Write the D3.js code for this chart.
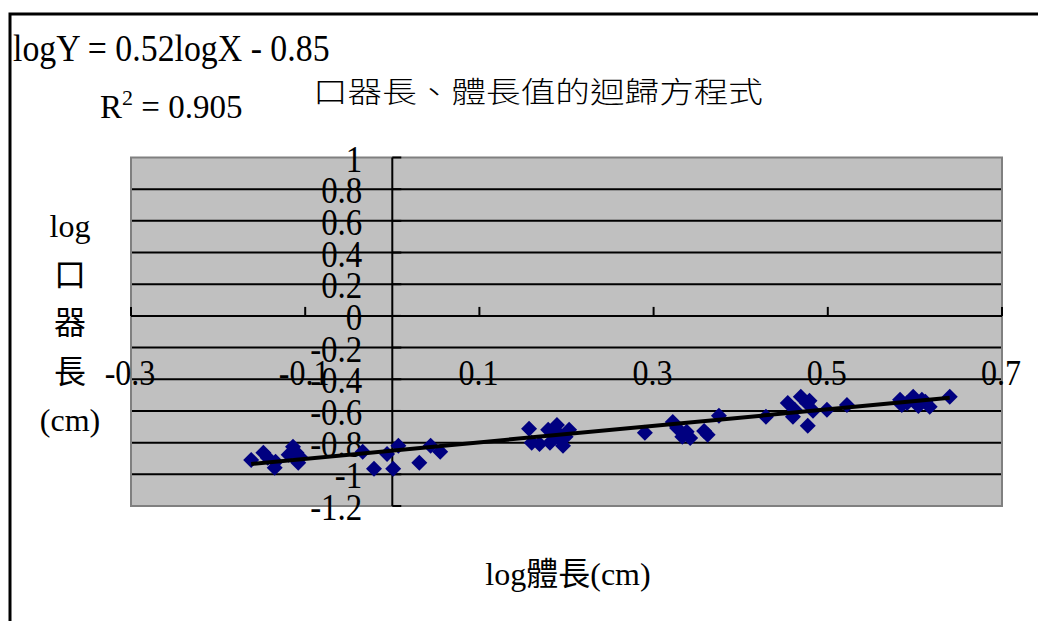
<!DOCTYPE html>
<html>
<head>
<meta charset="utf-8">
<script src="https://cdn.jsdelivr.net/npm/d3@7"></script>
<style>
body { margin: 0; background: #fff; }
</style>
</head>
<body>
<script>
// log body length (x) and log mouth-part length (y)
var logBody = [-0.162, -0.148, -0.143, -0.135, -0.134, -0.114, -0.110, -0.108, -0.119, -0.106,
  -0.034, -0.021, -0.006, 0.007, 0.001, 0.031, 0.044, 0.055,
  0.157, 0.160, 0.169, 0.181, 0.179, 0.189, 0.190, 0.196, 0.203, 0.187, 0.199, 0.193,
  0.290, 0.322, 0.333, 0.342, 0.338, 0.358, 0.362, 0.327, 0.375,
  0.429, 0.454, 0.460, 0.469, 0.476, 0.479, 0.477, 0.483, 0.499, 0.522, 0.462,
  0.583, 0.591, 0.598, 0.608, 0.617, 0.640, 0.585, 0.604, 0.612]
var logMouth = [-0.909, -0.864, -0.896, -0.959, -0.921, -0.826, -0.864, -0.927, -0.877, -0.890,
  -0.858, -0.965, -0.871, -0.820, -0.965, -0.927, -0.820, -0.858,
  -0.713, -0.801, -0.808, -0.801, -0.719, -0.688, -0.738, -0.820, -0.719, -0.763, -0.763, -0.782,
  -0.738, -0.669, -0.763, -0.770, -0.732, -0.726, -0.751, -0.707, -0.631,
  -0.637, -0.549, -0.637, -0.511, -0.549, -0.536, -0.694, -0.599, -0.593, -0.562, -0.593,
  -0.530, -0.549, -0.511, -0.530, -0.574, -0.511, -0.562, -0.568, -0.542]

var xTicks = [-0.3, -0.1, 0.1, 0.3, 0.5, 0.7]
var yTicks = [-1.2, -1, -0.8, -0.6, -0.4, -0.2, 0, 0.2, 0.4, 0.6, 0.8, 1]

// trendline coefficients (from the label)
var slope = 0.52
var intercept = -0.85

var eqText = "logY = 0.52logX - 0.85"
var r2Text = "0.905"
var chartTitle = "口器長、體長值的迴歸方程式"
var yTitle = ["log", "口", "器", "長", "(cm)"]
var xTitle = "log體長(cm)"

var width = 1038, height = 621
var latin = "'Liberation Serif', 'Times New Roman', serif"
var mixed = "'Liberation Serif', 'Noto Sans CJK TC', serif"

var svg = d3.select("body")
  .append("svg")
  .attr("width", width)
  .attr("height", height)

var x = d3.scaleLinear().domain([-0.3, 0.7]).range([131, 1002])
var y = d3.scaleLinear().domain([-1.2, 1]).range([506, 157.5])

// squeeze latin text horizontally like the original narrow serif
function condense(sel, k) {
  sel.each(function() {
    var w = this.getComputedTextLength()
    d3.select(this).attr("textLength", w * k).attr("lengthAdjust", "spacingAndGlyphs")
  })
}

// outer frame
svg.append("rect")
  .attr("x", 10).attr("y", 14)
  .attr("width", 1100).attr("height", 700)
  .attr("fill", "#fff")
  .attr("stroke", "#000")
  .attr("stroke-width", 3)

// plot area
svg.append("rect")
  .attr("x", x(-0.3)).attr("y", y(1))
  .attr("width", x(0.7) - x(-0.3))
  .attr("height", y(-1.2) - y(1))
  .attr("fill", "#c0c0c0")
  .attr("stroke", "#808080")
  .attr("stroke-width", 2)

// horizontal grid
svg.selectAll(".grid")
  .data(yTicks.filter(function(v) { return v > -1.2 && v < 1 && v != 0 }))
  .enter()
  .append("line")
  .attr("class", "grid")
  .attr("x1", x(-0.3) + 1).attr("x2", x(0.7) - 1)
  .attr("y1", function(v) { return y(v) }).attr("y2", function(v) { return y(v) })
  .attr("stroke", "#000")
  .attr("stroke-width", 2)

// x axis at y = 0, ticks pointing up
svg.append("line")
  .attr("x1", x(-0.3)).attr("x2", x(0.7))
  .attr("y1", y(0)).attr("y2", y(0))
  .attr("stroke", "#000").attr("stroke-width", 2)

svg.selectAll(".xtick")
  .data(xTicks)
  .enter()
  .append("line")
  .attr("class", "xtick")
  .attr("x1", function(v) { return x(v) }).attr("x2", function(v) { return x(v) })
  .attr("y1", y(0)).attr("y2", y(0) - 9)
  .attr("stroke", "#000").attr("stroke-width", 2)

// y axis at x = 0, ticks pointing right
svg.append("line")
  .attr("x1", x(0)).attr("x2", x(0))
  .attr("y1", y(1)).attr("y2", y(-1.2))
  .attr("stroke", "#000").attr("stroke-width", 2)

svg.selectAll(".ytick")
  .data(yTicks)
  .enter()
  .append("line")
  .attr("class", "ytick")
  .attr("x1", x(0)).attr("x2", x(0) + 9)
  .attr("y1", function(v) { return y(v) }).attr("y2", function(v) { return y(v) })
  .attr("stroke", "#000").attr("stroke-width", 2)

function fmt(v) { return String(+v.toFixed(1)) }

var yLabels = svg.selectAll(".ylabel")
  .data(yTicks)
  .enter()
  .append("text")
  .attr("class", "ylabel")
  .attr("x", x(0) - 30)
  .attr("y", function(v) { return y(v) + 14 })
  .attr("text-anchor", "end")
  .attr("font-family", latin)
  .attr("font-size", 37)
  .text(fmt)
condense(yLabels, 0.89)

var xLabels = svg.selectAll(".xlabel")
  .data(xTicks)
  .enter()
  .append("text")
  .attr("class", "xlabel")
  .attr("x", function(v) { return x(v) - 1 })
  .attr("y", y(0) + 69)
  .attr("text-anchor", "middle")
  .attr("font-family", latin)
  .attr("font-size", 36)
  .text(fmt)
condense(xLabels, 0.89)

// points
svg.selectAll(".pt")
  .data(logBody)
  .enter()
  .append("path")
  .attr("class", "pt")
  .attr("d", "M0,-8L8,0L0,8L-8,0Z")
  .attr("transform", function(d, i) { return "translate(" + x(d) + "," + y(logMouth[i]) + ")" })
  .attr("fill", "#000080")

// trendline
var xExt = d3.extent(logBody)
svg.append("line")
  .attr("x1", x(xExt[0])).attr("y1", y(slope * xExt[0] + intercept))
  .attr("x2", x(xExt[1])).attr("y2", y(slope * xExt[1] + intercept))
  .attr("stroke", "#000")
  .attr("stroke-width", 4)

// equation label
var eq = svg.append("text")
  .attr("x", 13).attr("y", 61)
  .attr("font-family", latin)
  .attr("font-size", 38)
  .text(eqText)
condense(eq, 0.89)

var r2 = svg.append("text")
  .attr("x", 100).attr("y", 118)
  .attr("font-family", latin)
  .attr("font-size", 33)
r2.append("tspan").text("R")
r2.append("tspan").attr("dy", -13).attr("font-size", 22).text("2")
r2.append("tspan").attr("dy", 13).text(" = " + r2Text)

// chart title
svg.append("text")
  .attr("x", 313).attr("y", 103)
  .attr("font-family", "'Noto Sans CJK TC', sans-serif")
  .attr("font-size", 29)
  .attr("font-weight", 300)
  .attr("textLength", 450)
  .attr("lengthAdjust", "spacingAndGlyphs")
  .text(chartTitle)

// y axis title, stacked
svg.selectAll(".ytitle")
  .data(yTitle)
  .enter()
  .append("text")
  .attr("class", "ytitle")
  .attr("x", 70)
  .attr("y", function(d, i) { return 237 + i * 48.5 })
  .attr("text-anchor", "middle")
  .attr("font-family", mixed)
  .attr("font-size", 32)
  .text(function(d) { return d })

// x axis title
svg.append("text")
  .attr("x", 568).attr("y", 585)
  .attr("text-anchor", "middle")
  .attr("font-family", mixed)
  .attr("font-size", 32)
  .text(xTitle)
</script>
</body>
</html>
